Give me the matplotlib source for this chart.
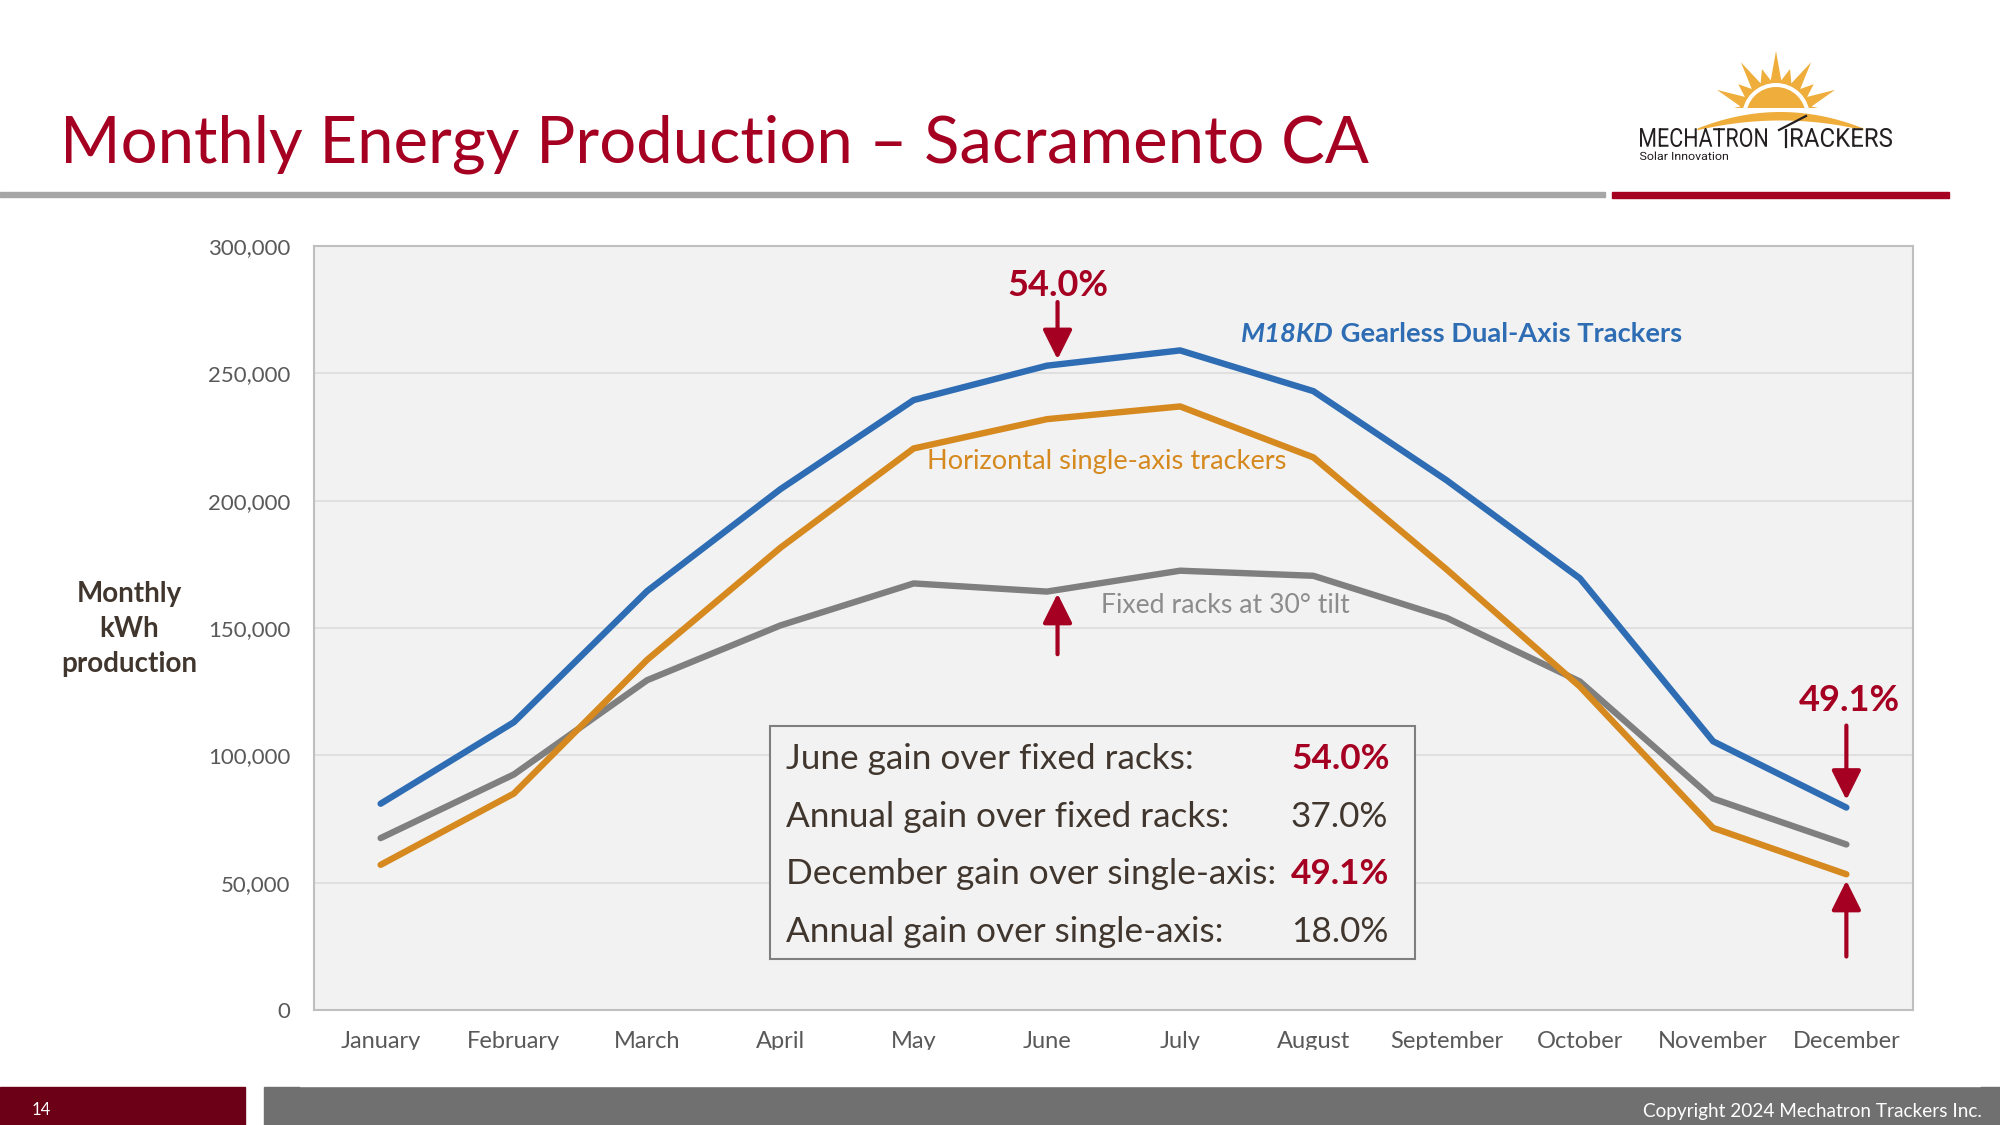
import matplotlib
matplotlib.use('Agg')
import matplotlib.pyplot as plt
import numpy as np
from matplotlib.patches import Rectangle, Polygon, Wedge, PathPatch
from matplotlib.textpath import TextPath
from matplotlib.font_manager import FontProperties
from matplotlib.transforms import Affine2D
from matplotlib.ticker import FuncFormatter

plt.rcParams['font.family'] = ['Lato', 'DejaVu Sans']

# data (kWh per month)
months = ['January', 'February', 'March', 'April', 'May', 'June',
          'July', 'August', 'September', 'October', 'November', 'December']
dual_axis = [81000, 113000, 164500, 204500, 239500, 253000,
             259000, 243000, 208000, 169500, 105500, 79500]
single_axis = [57000, 85000, 137500, 181500, 220500, 232000,
               237000, 217000, 173000, 127000, 71500, 53300]
fixed_rack = [67500, 92500, 129500, 151000, 167500, 164300,
              172500, 170500, 154000, 129000, 83000, 65000]
y_ticks = [0, 50000, 100000, 150000, 200000, 250000, 300000]

summary_labels = ['June gain over fixed racks:', 'Annual gain over fixed racks:',
                  'December gain over single-axis:', 'Annual gain over single-axis:']
summary_values = ['54.0%', '37.0%', '49.1%', '18.0%']
summary_bold = [True, False, True, False]

crimson = '#A50021'
blue = '#2E6DB4'
orange = '#D5891E'
grey = '#7F7F7F'
brown = '#40362E'
tick_col = '#595959'

W, H = 2000, 1125
fig = plt.figure(figsize=(20, 11.25), dpi=100)

def fx(px):
    return px / W

def fy(py):
    return 1 - py / H

# title + rules
fig.text(fx(60), fy(162), 'Monthly Energy Production – Sacramento CA',
         color=crimson, fontsize=47, va='baseline', ha='left')
fig.patches.append(Rectangle((0, fy(197)), fx(1605), 5 / H, transform=fig.transFigure,
                             color='#A6A6A6', zorder=1))
fig.patches.append(Rectangle((fx(1612), fy(198)), fx(337), 6 / H, transform=fig.transFigure,
                             color=crimson, zorder=1))

# footer
fig.patches.append(Rectangle((0, 0), fx(245), 38 / H, transform=fig.transFigure,
                             color='#6B0016', zorder=1))
fig.patches.append(Rectangle((fx(264), 0), fx(W - 264), 38 / H, transform=fig.transFigure,
                             color='#707070', zorder=1))
fig.text(fx(32), fy(1110), '14', color='white', fontsize=12, va='center')
fig.text(fx(1982), fy(1111), 'Copyright 2024 Mechatron Trackers Inc.', color='white',
         fontsize=13.7, va='center', ha='right')

# main chart
ax = fig.add_axes([fx(314), fy(1010), fx(1913 - 314), (1010 - 246) / H])
ax.set_facecolor('#F2F2F2')
x = np.arange(len(months))
ax.plot(x, fixed_rack, color=grey, lw=4.6, solid_capstyle='round', zorder=3)
ax.plot(x, single_axis, color=orange, lw=4.6, solid_capstyle='round', zorder=3)
ax.plot(x, dual_axis, color=blue, lw=4.6, solid_capstyle='round', zorder=4)

ax.set_xlim(-0.5, 11.5)
ax.set_ylim(0, 300000)
ax.set_yticks(y_ticks)
ax.yaxis.set_major_formatter(FuncFormatter(lambda v, p: f'{int(v):,}'))
ax.set_xticks(x)
ax.set_xticklabels(months)
ax.tick_params(axis='y', length=0, pad=17, labelsize=16, labelcolor=tick_col)
ax.tick_params(axis='x', length=0, pad=15, labelsize=17, labelcolor=tick_col)
ax.grid(axis='y', color='#DCDCDC', lw=1.2)
ax.set_axisbelow(True)
for s in ax.spines.values():
    s.set_color('#BFBFBF')
    s.set_linewidth(1.5)

fig.text(fx(129), fy(629), 'Monthly\nkWh\nproduction', ha='center', va='center',
         fontsize=20, fontweight='bold', color=brown, linespacing=1.42)

# series labels
t1 = ax.text(6.457, 265400, 'M18KD', color=blue, fontsize=19.7, fontweight='bold',
             fontstyle='italic', va='center', ha='left')
ax.annotate(' Gearless Dual-Axis Trackers', xy=(1, 0), xycoords=t1, va='bottom',
            color=blue, fontsize=19.7, fontweight='bold')
ax.text(4.103, 215400, 'Horizontal single-axis trackers', color=orange, fontsize=19.6,
        va='center', ha='left')
ax.text(5.404, 158800, 'Fixed racks at 30° tilt', color='#8C8C8C', fontsize=19.2,
        va='center', ha='left')

# arrows and percentages
arrow_kw = dict(arrowstyle='-|>,head_width=0.45,head_length=0.9', color=crimson,
                lw=3, shrinkA=0, shrinkB=0, mutation_scale=20)
ax.annotate('', xy=(5.08, 255500), xytext=(5.08, 278000), arrowprops=arrow_kw, zorder=6)
ax.annotate('', xy=(5.08, 163500), xytext=(5.08, 139700), arrowprops=arrow_kw, zorder=6)
ax.annotate('', xy=(11.0, 82500), xytext=(11.0, 111700), arrowprops=arrow_kw, zorder=6)
ax.annotate('', xy=(11.0, 50800), xytext=(11.0, 21000), arrowprops=arrow_kw, zorder=6)
ax.text(5.08, 284500, '54.0%', color=crimson, fontsize=26, fontweight='bold',
        ha='center', va='center')
ax.text(11.02, 121500, '49.1%', color=crimson, fontsize=26, fontweight='bold',
        ha='center', va='center')

# summary box
fig.patches.append(Rectangle((fx(770), fy(959)), fx(645), 233 / H, transform=fig.transFigure,
                             facecolor='#F2F2F2', edgecolor='#7F7F7F', lw=1.5, zorder=5))
row_y = [759, 817, 874, 932]
for lab, val, b, yy in zip(summary_labels, summary_values, summary_bold, row_y):
    fig.text(fx(786), fy(yy), lab, color=brown, fontsize=25.3, va='center', ha='left', zorder=6)
    fig.text(fx(1291), fy(yy), val, color=crimson if b else brown, fontsize=25.3,
             fontweight='bold' if b else 'normal', va='center', ha='left', zorder=6)

# logo
lax = fig.add_axes([fx(1630), fy(172), fx(270), 127 / H])
lax.set_xlim(1630, 1900)
lax.set_ylim(172, 45)
lax.axis('off')
sun = '#EFAE3C'
cx, cy = 1776, 117
n = 25
angs = np.linspace(np.radians(188), np.radians(-8), n)
ray_r = [62, 0, 50, 0, 65, 0, 50, 0, 65, 0, 50, 0, 66, 0, 50, 0, 65, 0, 50, 0, 65, 0, 50, 0, 62]
pts = []
for i, a in enumerate(angs):
    r = ray_r[i] if i % 2 == 0 else 37
    pts.append((cx + r * np.cos(a), cy - r * np.sin(a)))
lax.add_patch(Polygon(pts, closed=True, color=sun, lw=0))
lax.add_patch(Wedge((cx, cy), 34, 180, 360, color='white', lw=0))
lax.add_patch(Wedge((cx, cy), 30, 180, 360, color=sun, lw=0))
lax.add_patch(Rectangle((1680, 108), 200, 30, color='white', lw=0))
xs = np.linspace(1697, 1863, 80)
top = 111.5 + 0.0024 * (xs - 1780) ** 2
bot = 120 + 0.00142 * (xs - 1780) ** 2
lax.fill_between(xs, top, np.maximum(top, bot), color=sun, lw=0)

def fit_text(axl, s, x0, x1, ybase, height, weight='normal', col='#231F20'):
    tp = TextPath((0, 0), s, size=10, prop=FontProperties(family='Roboto', weight=weight))
    bb = tp.get_extents()
    sx = (x1 - x0) / bb.width
    sy = height / bb.height
    tr = Affine2D().translate(-bb.x0, -bb.y0).scale(sx, -sy).translate(x0, ybase)
    axl.add_patch(PathPatch(tr.transform_path(tp), color=col, lw=0))

fit_text(lax, 'MECHATRON', 1640, 1767, 147, 19)
fit_text(lax, 'RACKERS', 1791, 1892, 147, 19)
lax.plot([1786, 1786], [130, 147], color='#231F20', lw=1.6)
lax.plot([1779, 1806], [130, 116], color='#231F20', lw=1.6)
fit_text(lax, 'Solar Innovation', 1640, 1728, 160, 8.5)

# white band hides descenders of month labels as in source
fig.patches.append(Rectangle((fx(300), fy(1086)), fx(1680), 36 / H, transform=fig.transFigure,
                             color='white', zorder=10))

fig.savefig('out.png', dpi=100)
